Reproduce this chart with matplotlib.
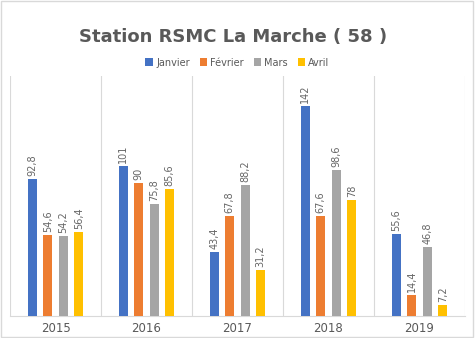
import numpy as np
import matplotlib
matplotlib.use("Agg")
import matplotlib.pyplot as plt
from matplotlib.patches import Rectangle

years = ["2015", "2016", "2017", "2018", "2019"]
months = ["Janvier", "Février", "Mars", "Avril"]
janvier = [92.8, 101, 43.4, 142, 55.6]
fevrier = [54.6, 90, 67.8, 67.6, 14.4]
mars = [54.2, 75.8, 88.2, 98.6, 46.8]
avril = [56.4, 85.6, 31.2, 78, 7.2]
colors = ["#4472C4", "#ED7D31", "#A5A5A5", "#FFC000"]


def fmt(v):
    s = ("%.1f" % v).rstrip("0").rstrip(".")
    return s.replace(".", ",")


fig = plt.figure(figsize=(4.75, 3.38), dpi=100)
fig.patches.append(Rectangle((0.002, 0.003), 0.994, 0.993, transform=fig.transFigure,
                             fill=False, edgecolor="#D9D9D9", linewidth=1))
ax = fig.add_axes([10 / 475, 22 / 338, 455 / 475, 240 / 338])

x = np.arange(len(years))
width = 0.1
step = 0.17
series = [janvier, fevrier, mars, avril]
for i, (vals, name, c) in enumerate(zip(series, months, colors)):
    pos = x + (i - 1.5) * step
    ax.bar(pos, vals, width, color=c, label=name, zorder=3)
    for p, v in zip(pos, vals):
        ax.text(p, v + 2, fmt(v), rotation=90, ha="center", va="bottom",
                fontsize=7, color="#666666")

ax.set_xlim(-0.5, len(years) - 0.5)
ax.set_ylim(0, 162)
ax.set_yticks([])
ax.set_xticks(x)
ax.set_xticklabels(years, fontsize=8.5, color="#595959")
ax.tick_params(axis="x", length=0, pad=4)
for b in np.arange(-0.5, len(years), 1.0):
    ax.axvline(b, color="#D9D9D9", linewidth=0.8, zorder=1)
for s in ["top", "right", "left"]:
    ax.spines[s].set_visible(False)
ax.spines["bottom"].set_color("#D9D9D9")

fig.text(0.49, 0.89, "Station RSMC La Marche ( 58 )", ha="center", va="center",
         fontsize=13, fontweight="bold", color="#595959")
fig.legend(loc="center", bbox_to_anchor=(0.5, 0.815), ncol=4, frameon=False,
           fontsize=7, handlelength=0.8, handleheight=0.8, handletextpad=0.3,
           columnspacing=1.0, labelcolor="#595959")

fig.savefig("out.png", dpi=100)
